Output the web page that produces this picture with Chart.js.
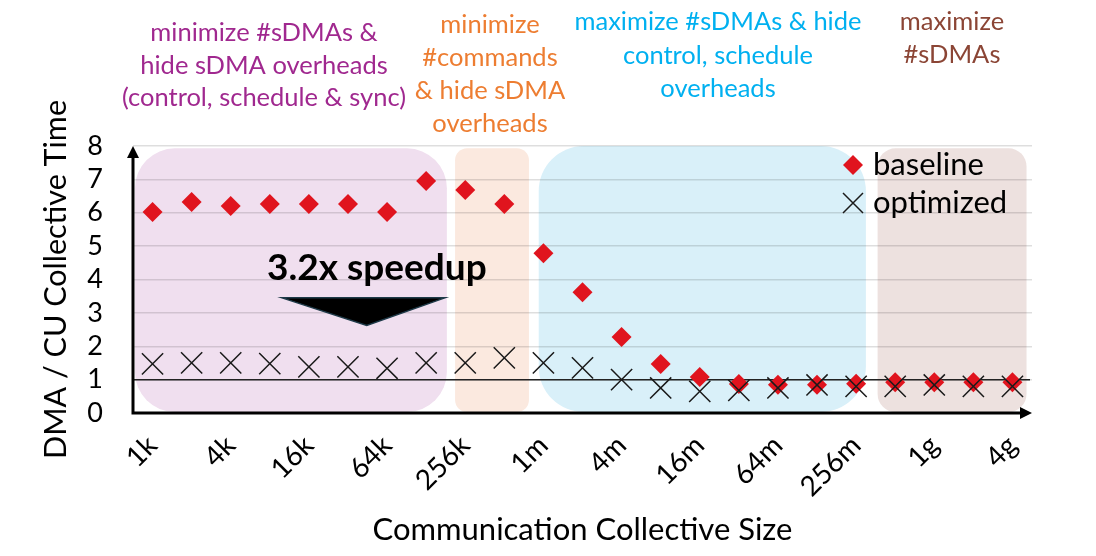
<!DOCTYPE html>
<html>
<head>
<meta charset="utf-8">
<script src="https://cdn.jsdelivr.net/npm/chart.js@4.4.1/dist/chart.umd.min.js"></script>
<style>
  html, body { margin: 0; padding: 0; background: #fff; }
  #wrap { width: 1096px; height: 556px; }
</style>
</head>
<body>
<div id="wrap"><canvas id="grafico"></canvas></div>
<script>
// tamanhos do coletivo (um rótulo sim, outro não no eixo)
const tamanhos = ['1k', '2k', '4k', '8k', '16k', '32k', '64k', '128k', '256k', '512k',
    '1m', '2m', '4m', '8m', '16m', '32m', '64m', '128m', '256m', '512m', '1g', '2g', '4g'];

// tempo DMA / CU
const baseline = [6.02, 6.32, 6.2, 6.26, 6.26, 6.26, 6.02, 6.95, 6.68, 6.26,
    4.79, 3.62, 2.28, 1.47, 1.08, 0.87, 0.85, 0.85, 0.88, 0.92, 0.92, 0.92, 0.92];
const optimized = [1.47, 1.5, 1.5, 1.48, 1.38, 1.38, 1.34, 1.5, 1.5, 1.65,
    1.5, 1.35, 1.0, 0.75, 0.65, 0.68, 0.75, 0.84, 0.8, 0.8, 0.84, 0.8, 0.8];

const yTicks = [0, 1, 2, 3, 4, 5, 6, 7, 8];
const FONTE = 'Lato, "Open Sans", sans-serif';

// regiões sombreadas (em unidades de categoria)
const regioes = [
    { de: -0.45, ate: 7.53, topo: 7.93, cor: '#f0dfef', raio: 40 },
    { de: 7.74, ate: 9.63, topo: 7.93, cor: '#fbe9df', raio: 12 },
    { de: 9.88, ate: 18.25, topo: 8.0, cor: '#d9f0f9', raio: 45 },
    { de: 18.55, ate: 22.36, topo: 7.93, cor: '#ede1df', raio: 18 }
];

// textos acima do gráfico
const notas = [
    { linhas: ['minimize #sDMAs &', 'hide sDMA overheads', '(control, schedule & sync)'], x: 264, y: [33, 66, 98], cor: '#a0288f' },
    { linhas: ['minimize', '#commands', '& hide sDMA', 'overheads'], x: 490, y: [25, 58, 91, 124], cor: '#ed7d31' },
    { linhas: ['maximize #sDMAs & hide', 'control, schedule', 'overheads'], x: 718, y: [22, 56, 89], cor: '#00b0f0' },
    { linhas: ['maximize', '#sDMAs'], x: 952, y: [22, 55], cor: '#8b4535' }
];

function caminhoArredondado(ctx, x0, y0, x1, y1, r) {
    ctx.beginPath();
    ctx.moveTo(x0 + r, y0);
    ctx.lineTo(x1 - r, y0);
    ctx.arcTo(x1, y0, x1, y0 + r, r);
    ctx.lineTo(x1, y1 - r);
    ctx.arcTo(x1, y1, x1 - r, y1, r);
    ctx.lineTo(x0 + r, y1);
    ctx.arcTo(x0, y1, x0, y1 - r, r);
    ctx.lineTo(x0, y0 + r);
    ctx.arcTo(x0, y0, x0 + r, y0, r);
    ctx.closePath();
}

const pluginDecoracao = {
    id: 'decoracao',
    beforeDraw(chart) {
        const ctx = chart.ctx;
        const x = chart.scales.x, y = chart.scales.y;
        ctx.save();
        regioes.forEach(r => {
            ctx.fillStyle = r.cor;
            caminhoArredondado(ctx, x.getPixelForValue(r.de), y.getPixelForValue(r.topo),
                x.getPixelForValue(r.ate), y.getPixelForValue(0.03), r.raio);
            ctx.fill();
        });
        ctx.restore();
    },
    beforeDatasetsDraw(chart) {
        const ctx = chart.ctx;
        const a = chart.chartArea;
        const y = chart.scales.y;
        ctx.save();
        // linha de referência em 1
        ctx.strokeStyle = '#222';
        ctx.lineWidth = 1.5;
        ctx.beginPath();
        ctx.moveTo(a.left, y.getPixelForValue(1));
        ctx.lineTo(a.right - 2, y.getPixelForValue(1));
        ctx.stroke();
        // eixos com setas
        ctx.strokeStyle = '#000';
        ctx.fillStyle = '#000';
        ctx.lineWidth = 3;
        ctx.beginPath();
        ctx.moveTo(a.left, a.bottom);
        ctx.lineTo(a.left, a.top + 10);
        ctx.moveTo(a.left - 1.5, a.bottom);
        ctx.lineTo(a.right - 10, a.bottom);
        ctx.stroke();
        ctx.beginPath();
        ctx.moveTo(a.left, a.top);
        ctx.lineTo(a.left - 6, a.top + 12);
        ctx.lineTo(a.left + 6, a.top + 12);
        ctx.closePath();
        ctx.fill();
        ctx.beginPath();
        ctx.moveTo(a.right, a.bottom);
        ctx.lineTo(a.right - 12, a.bottom - 6);
        ctx.lineTo(a.right - 12, a.bottom + 6);
        ctx.closePath();
        ctx.fill();
        ctx.restore();
    },
    afterDraw(chart) {
        const ctx = chart.ctx;
        const x = chart.scales.x, y = chart.scales.y;
        ctx.save();
        // anotações coloridas
        ctx.textAlign = 'center';
        ctx.textBaseline = 'middle';
        ctx.font = '25.5px ' + FONTE;
        notas.forEach(n => {
            ctx.fillStyle = n.cor;
            n.linhas.forEach((l, i) => ctx.fillText(l, n.x, n.y[i]));
        });
        // 3.2x speedup
        ctx.fillStyle = '#000';
        ctx.font = 'bold 37px ' + FONTE;
        ctx.fillText('3.2x speedup', x.getPixelForValue(5.74), y.getPixelForValue(4.35));
        ctx.beginPath();
        ctx.moveTo(x.getPixelForValue(3.31), y.getPixelForValue(3.45));
        ctx.lineTo(x.getPixelForValue(7.48), y.getPixelForValue(3.45));
        ctx.lineTo(x.getPixelForValue(5.48), y.getPixelForValue(2.62));
        ctx.closePath();
        ctx.fillStyle = '#000';
        ctx.fill();
        ctx.strokeStyle = '#1e3a48';
        ctx.lineWidth = 1.5;
        ctx.stroke();
        // legenda
        const lx = 853, ly1 = 165, ly2 = 203;
        ctx.fillStyle = '#e0141e';
        ctx.beginPath();
        ctx.moveTo(lx, ly1 - 10); ctx.lineTo(lx + 10, ly1); ctx.lineTo(lx, ly1 + 10); ctx.lineTo(lx - 10, ly1);
        ctx.closePath();
        ctx.fill();
        ctx.strokeStyle = '#1a1a1a';
        ctx.lineWidth = 1.5;
        ctx.beginPath();
        ctx.moveTo(lx - 10, ly2 - 10); ctx.lineTo(lx + 10, ly2 + 10);
        ctx.moveTo(lx + 10, ly2 - 10); ctx.lineTo(lx - 10, ly2 + 10);
        ctx.stroke();
        ctx.fillStyle = '#000';
        ctx.textAlign = 'left';
        ctx.font = '31px ' + FONTE;
        ctx.fillText('baseline', lx + 20, ly1);
        ctx.fillText('optimized', lx + 20, ly2);
        ctx.restore();
    }
};

new Chart(document.getElementById('grafico'), {
    type: 'line',
    data: {
        labels: tamanhos,
        datasets: [{
            label: 'baseline',
            data: baseline,
            showLine: false,
            pointStyle: 'rectRot',
            pointRadius: 10,
            pointBackgroundColor: '#e0141e',
            pointBorderWidth: 0,
            order: 2
        }, {
            label: 'optimized',
            data: optimized,
            showLine: false,
            pointStyle: 'crossRot',
            pointRadius: 15,
            pointBorderColor: '#1a1a1a',
            pointBorderWidth: 1.5,
            order: 1
        }]
    },
    options: {
        responsive: true,
        maintainAspectRatio: false,
        animation: false,
        layout: { padding: { top: 146, right: 64, bottom: 0, left: 0 } },
        plugins: {
            legend: { display: false },
            tooltip: { enabled: false }
        },
        scales: {
            x: {
                offset: true,
                grid: { display: false, drawTicks: false },
                border: { display: false },
                ticks: {
                    autoSkip: false,
                    minRotation: 45,
                    maxRotation: 45,
                    padding: 16,
                    color: '#000',
                    font: { family: FONTE, size: 28 },
                    callback: (v, i) => (i % 2 === 0 ? tamanhos[i] : '')
                },
                title: {
                    display: true,
                    text: 'Communication Collective Size',
                    color: '#000',
                    font: { family: FONTE, size: 31 },
                    padding: { top: 0, bottom: 7 }
                },
                afterFit: s => { s.height = 143; }
            },
            y: {
                min: 0,
                max: 8,
                afterBuildTicks: s => { s.ticks = yTicks.map(v => ({ value: v })); },
                grid: {
                    drawTicks: false,
                    color: ctx => (ctx.tick.value === 0 ? 'rgba(0,0,0,0)' : 'rgba(0,0,0,0.13)'),
                    lineWidth: 1.5
                },
                border: { display: false },
                ticks: {
                    autoSkip: false,
                    padding: 30,
                    color: '#000',
                    font: { family: FONTE, size: 27 }
                },
                title: {
                    display: true,
                    text: 'DMA / CU Collective Time',
                    color: '#000',
                    font: { family: FONTE, size: 30.5 },
                    padding: { top: 38, bottom: 0 }
                },
                afterFit: s => { s.width = 133; }
            }
        }
    },
    plugins: [pluginDecoracao]
});
</script>
</body>
</html>
